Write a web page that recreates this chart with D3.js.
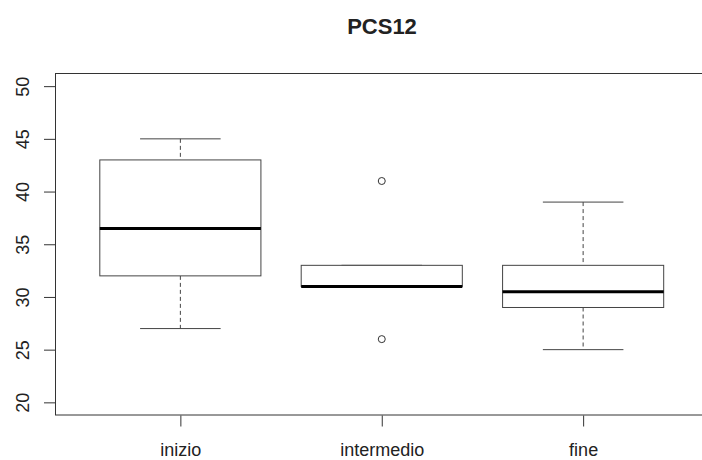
<!DOCTYPE html>
<html>
<head>
<meta charset="utf-8">
<script src="https://cdn.jsdelivr.net/npm/d3@7"></script>
<style>
  body { margin: 0; background: #fff; }
  svg { display: block; }
  text { font-family: "Liberation Sans", Arial, sans-serif; fill: #222; }
</style>
</head>
<body>
<div id="chart-area"></div>
<script>
// boxplot stats
var categories = ["inizio", "intermedio", "fine"];
var whiskerLow = [27, 31, 25];
var q1 = [32, 31, 29];
var median = [36.5, 31, 30.5];
var q3 = [43, 33, 33];
var whiskerHigh = [45, 33, 39];
var outliers = [[], [41, 26], []];
var yTicks = [20, 25, 30, 35, 40, 45, 50];

var width = 702, height = 460;
var pTop = 73.5, pBottom = 415, pLeft = 55.5, pRight = 708;

var svg = d3.select("#chart-area").append("svg")
    .attr("width", width)
    .attr("height", height);

var x = d3.scaleLinear().domain([0.38, 3.62]).range([pLeft, pRight]);
var y = d3.scaleLinear().domain([18.8, 51.2]).range([pBottom, pTop]);

var boxes = categories.map(function(c, i) {
    return { name: c, pos: i + 1, lo: whiskerLow[i], q1: q1[i], med: median[i],
             q3: q3[i], hi: whiskerHigh[i], out: outliers[i] };
});

var halfBox = 0.4, halfCap = 0.2;

var g = svg.selectAll("g.box")
    .data(boxes)
    .enter()
    .append("g")
    .attr("class", "box");

// whiskers (dashed)
g.append("line")
    .attr("x1", d => x(d.pos)).attr("x2", d => x(d.pos))
    .attr("y1", d => y(d.hi)).attr("y2", d => y(d.q3))
    .attr("stroke", "#444").attr("stroke-dasharray", "4,3");
g.append("line")
    .attr("x1", d => x(d.pos)).attr("x2", d => x(d.pos))
    .attr("y1", d => y(d.q1)).attr("y2", d => y(d.lo))
    .attr("stroke", "#444").attr("stroke-dasharray", "4,3");

// caps
g.append("line")
    .attr("x1", d => x(d.pos - halfCap)).attr("x2", d => x(d.pos + halfCap))
    .attr("y1", d => y(d.hi)).attr("y2", d => y(d.hi))
    .attr("stroke", "#444");
g.append("line")
    .attr("x1", d => x(d.pos - halfCap)).attr("x2", d => x(d.pos + halfCap))
    .attr("y1", d => y(d.lo)).attr("y2", d => y(d.lo))
    .attr("stroke", "#444");

// box
g.append("rect")
    .attr("x", d => x(d.pos - halfBox))
    .attr("y", d => y(d.q3))
    .attr("width", d => x(d.pos + halfBox) - x(d.pos - halfBox))
    .attr("height", d => y(d.q1) - y(d.q3))
    .attr("fill", "white")
    .attr("stroke", "#444");

// median
g.append("line")
    .attr("x1", d => x(d.pos - halfBox)).attr("x2", d => x(d.pos + halfBox))
    .attr("y1", d => y(d.med)).attr("y2", d => y(d.med))
    .attr("stroke", "#000").attr("stroke-width", 3);

// outliers
g.selectAll("circle")
    .data(d => d.out.map(v => ({ pos: d.pos, v: v })))
    .enter()
    .append("circle")
    .attr("cx", d => x(d.pos))
    .attr("cy", d => y(d.v))
    .attr("r", 3.5)
    .attr("fill", "none")
    .attr("stroke", "#333");

// frame
svg.append("rect")
    .attr("x", pLeft).attr("y", pTop)
    .attr("width", pRight - pLeft).attr("height", pBottom - pTop)
    .attr("fill", "none").attr("stroke", "#333");

// y axis, labels turned like R's las=0
var yAxis = d3.axisLeft(y).tickValues(yTicks).tickSize(11).tickPadding(0);
var ya = svg.append("g")
    .attr("transform", "translate(" + (pLeft - 0.5) + ",0)")
    .call(yAxis);
ya.select(".domain").remove();
ya.selectAll("line").attr("stroke", "#333");
ya.selectAll("text")
    .attr("font-size", "18px")
    .attr("fill", "#222")
    .attr("x", 0)
    .attr("dy", null)
    .attr("transform", "translate(-26,0) rotate(-90)")
    .style("text-anchor", "middle");

// x axis
var xAxis = d3.axisBottom(x).tickValues([1, 2, 3])
    .tickFormat((d, i) => categories[i]).tickSize(11).tickPadding(17);
var xa = svg.append("g")
    .attr("transform", "translate(0," + (pBottom + 0.5) + ")")
    .call(xAxis);
xa.select(".domain").remove();
xa.selectAll("line").attr("stroke", "#333");
xa.selectAll("text").attr("font-size", "18px").attr("fill", "#222");

// title
svg.append("text")
    .attr("x", 382)
    .attr("y", 34)
    .attr("text-anchor", "middle")
    .attr("font-size", "22px")
    .attr("font-weight", "bold")
    .text("PCS12");
</script>
</body>
</html>
